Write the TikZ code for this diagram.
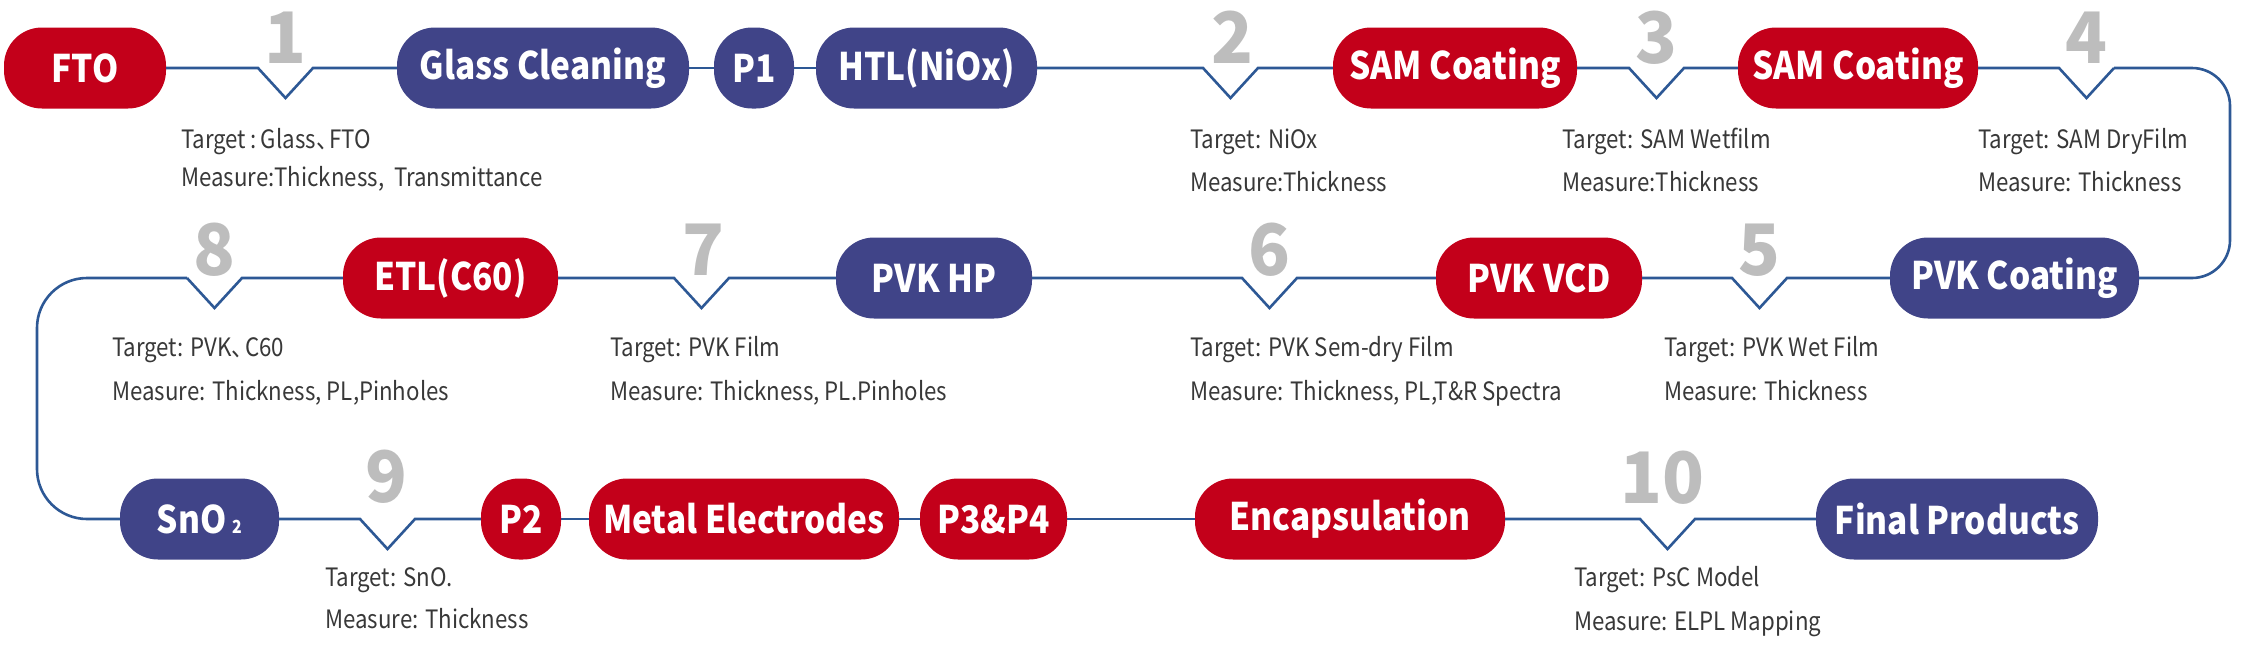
\documentclass[tikz,border=0pt]{standalone}
\usepackage{fontspec}
\usepackage{graphicx}
\newfontfamily\cjk[FakeStretch=0.88]{Noto Sans CJK SC}
\newfontfamily\cjknum[FakeStretch=0.97]{Noto Sans CJK SC}
\definecolor{cred}{HTML}{C3001A}
\definecolor{cblue}{HTML}{404488}
\definecolor{cline}{HTML}{2D5895}
\definecolor{cnum}{HTML}{BDBDBD}
\definecolor{ctext}{HTML}{383838}
\tikzset{
 box/.style={rounded corners=38pt, minimum height=81pt, inner sep=0pt, text=white, font=\cjk\bfseries\fontsize{38}{40}\selectfont},
 rbox/.style={box, fill=cred},
 bbox/.style={box, fill=cblue},
 conn/.style={draw=cline, line width=2.6pt, line join=miter},
 num/.style={anchor=base, text=cnum, font=\cjknum\bfseries\fontsize{71}{71}\selectfont, inner sep=0pt, text height=48pt, text depth=0pt},
 lab/.style={anchor=base west, text=ctext, font=\cjk\fontsize{25.3}{27}\selectfont, inner sep=0pt},
}
\begin{document}
\begin{tikzpicture}[x=1pt,y=-1pt]
\useasboundingbox (0,0) rectangle (2250,670);
% row 1
\node[rbox, minimum width=162pt] (fto) at (85,68) {FTO};
\node[bbox, minimum width=292pt] (glass) at (543,68) {Glass Cleaning};
\node[bbox, minimum width=80pt] (p1) at (754,68) {P1};
\node[bbox, minimum width=221pt] (htl) at (926.5,68) {HTL(NiOx)};
\node[rbox, minimum width=244pt] (sam1) at (1455,68) {SAM Coating};
\node[rbox, minimum width=240pt] (sam2) at (1858,68) {SAM Coating};
% row 2
\node[bbox, minimum width=249pt] (pvkc) at (2014.5,278) {PVK Coating};
\node[rbox, minimum width=206pt] (vcd) at (1539,278) {PVK VCD};
\node[bbox, minimum width=196pt] (hp) at (934,278) {PVK HP};
\node[rbox, minimum width=215pt] (etl) at (450.5,278) {ETL(C60)};
% row 3
\node[bbox, minimum width=159pt] (sno) at (199.5,519) {SnO\,{\fontsize{18}{18}\selectfont 2}};
\node[rbox, minimum width=80pt] (p2) at (521,519) {P2};
\node[rbox, minimum width=310pt] (metal) at (744,519) {Metal Electrodes};
\node[rbox, minimum width=147pt] (p34) at (993.5,519) {P3\&P4};
\node[rbox, minimum width=310pt] (encap) at (1350,519) {Encapsulation};
\node[bbox, minimum width=282pt] (final) at (1957,519) {Final Products};
% notch starts and corners
\coordinate (n1) at (258,68);
\coordinate (n2) at (1203,68);
\coordinate (n3) at (1629,68);
\coordinate (n4) at (2059,68);
\coordinate (n5) at (1787,278);
\coordinate (n6) at (1297,278);
\coordinate (n7) at (729,278);
\coordinate (n8) at (242,278);
\coordinate (n9) at (360,519);
\coordinate (n10) at (1640,519);
\coordinate (cr1) at (2230,68);
\coordinate (cr2) at (2230,278);
\coordinate (cl1) at (37,278);
\coordinate (cl2) at (37,519);
% connectors row 1
\draw[conn] (fto.east) -- (n1) -- ++(27.5,30) -- ++(27.5,-30) -- (glass.west);
\draw[conn] (glass.east) -- (p1.west);
\draw[conn] (p1.east) -- (htl.west);
\draw[conn] (htl.east) -- (n2) -- ++(27.5,30) -- ++(27.5,-30) -- (sam1.west);
\draw[conn] (sam1.east) -- (n3) -- ++(27.5,30) -- ++(27.5,-30) -- (sam2.west);
\draw[conn] (sam2.east) -- (n4) -- ++(27.5,30) -- ++(27.5,-30) coordinate (n4e);
\draw[conn, rounded corners=38pt] (n4e) -- (cr1) -- (cr2) -- (pvkc.east);
% row 2
\draw[conn] (pvkc.west) -- (n5) -- ++(-27.5,30) -- ++(-27.5,-30) -- (vcd.east);
\draw[conn] (vcd.west) -- (n6) -- ++(-27.5,30) -- ++(-27.5,-30) -- (hp.east);
\draw[conn] (hp.west) -- (n7) -- ++(-27.5,30) -- ++(-27.5,-30) -- (etl.east);
\draw[conn] (etl.west) -- (n8) -- ++(-27.5,30) -- ++(-27.5,-30) coordinate (n8e);
\draw[conn, rounded corners=50pt] (n8e) -- (cl1) -- (cl2) -- (sno.west);
% row 3
\draw[conn] (sno.east) -- (n9) -- ++(27.5,30) -- ++(27.5,-30) -- (p2.west);
\draw[conn] (p2.east) -- (metal.west);
\draw[conn] (metal.east) -- (p34.west);
\draw[conn] (p34.east) -- (encap.west);
\draw[conn] (encap.east) -- (n10) -- ++(27.5,30) -- ++(27.5,-30) -- (final.west);
% step numbers
\node[num] (k1) at (285.5,63) {1};
\node[num] (k2) at (1232.5,63) {2};
\node[num] (k3) at (1656.5,63) {3};
\node[num] (k4) at (2086.5,63) {4};
\node[num] (k5) at (1759.5,275) {5};
\node[num] (k6) at (1269.5,275) {6};
\node[num] (k7) at (703.5,275) {7};
\node[num] (k8) at (214.5,275) {8};
\node[num] (k9) at (386.5,502) {9};
\node[num] (k10) at (1662.5,503) {10};
% labels
\node[lab] (t1) at (181,148) {Target\,:\,Glass、\kern-9pt FTO};
\node[lab] (m1) at (181,186) {Measure:Thickness,\ \ Transmittance};
\node[lab] (t2) at (1190,148) {Target: NiOx};
\node[lab] (m2) at (1190,191) {Measure:Thickness};
\node[lab] (t3) at (1562,148) {Target: SAM Wetfilm};
\node[lab] (m3) at (1562,191) {Measure:Thickness};
\node[lab] (t4) at (1978,148) {Target: SAM DryFilm};
\node[lab] (m4) at (1978,191) {Measure: Thickness};
\node[lab] (t5) at (1664,356) {Target: PVK Wet Film};
\node[lab] (m5) at (1664,400) {Measure: Thickness};
\node[lab] (t6) at (1190,356) {Target: PVK Sem-dry Film};
\node[lab] (m6) at (1190,400) {Measure: Thickness, PL,T\&R Spectra};
\node[lab] (t7) at (610,356) {Target: PVK Film};
\node[lab] (m7) at (610,400) {Measure: Thickness, PL.Pinholes};
\node[lab] (t8) at (112,356) {Target: PVK、\kern-9pt C60};
\node[lab] (m8) at (112,400) {Measure: Thickness, PL,Pinholes};
\node[lab] (t9) at (325,586) {Target: SnO.};
\node[lab] (m9) at (325,628) {Measure: Thickness};
\node[lab] (t10) at (1574,586) {Target: PsC Model};
\node[lab] (m10) at (1574,630) {Measure: ELPL Mapping};
\end{tikzpicture}
\end{document}
